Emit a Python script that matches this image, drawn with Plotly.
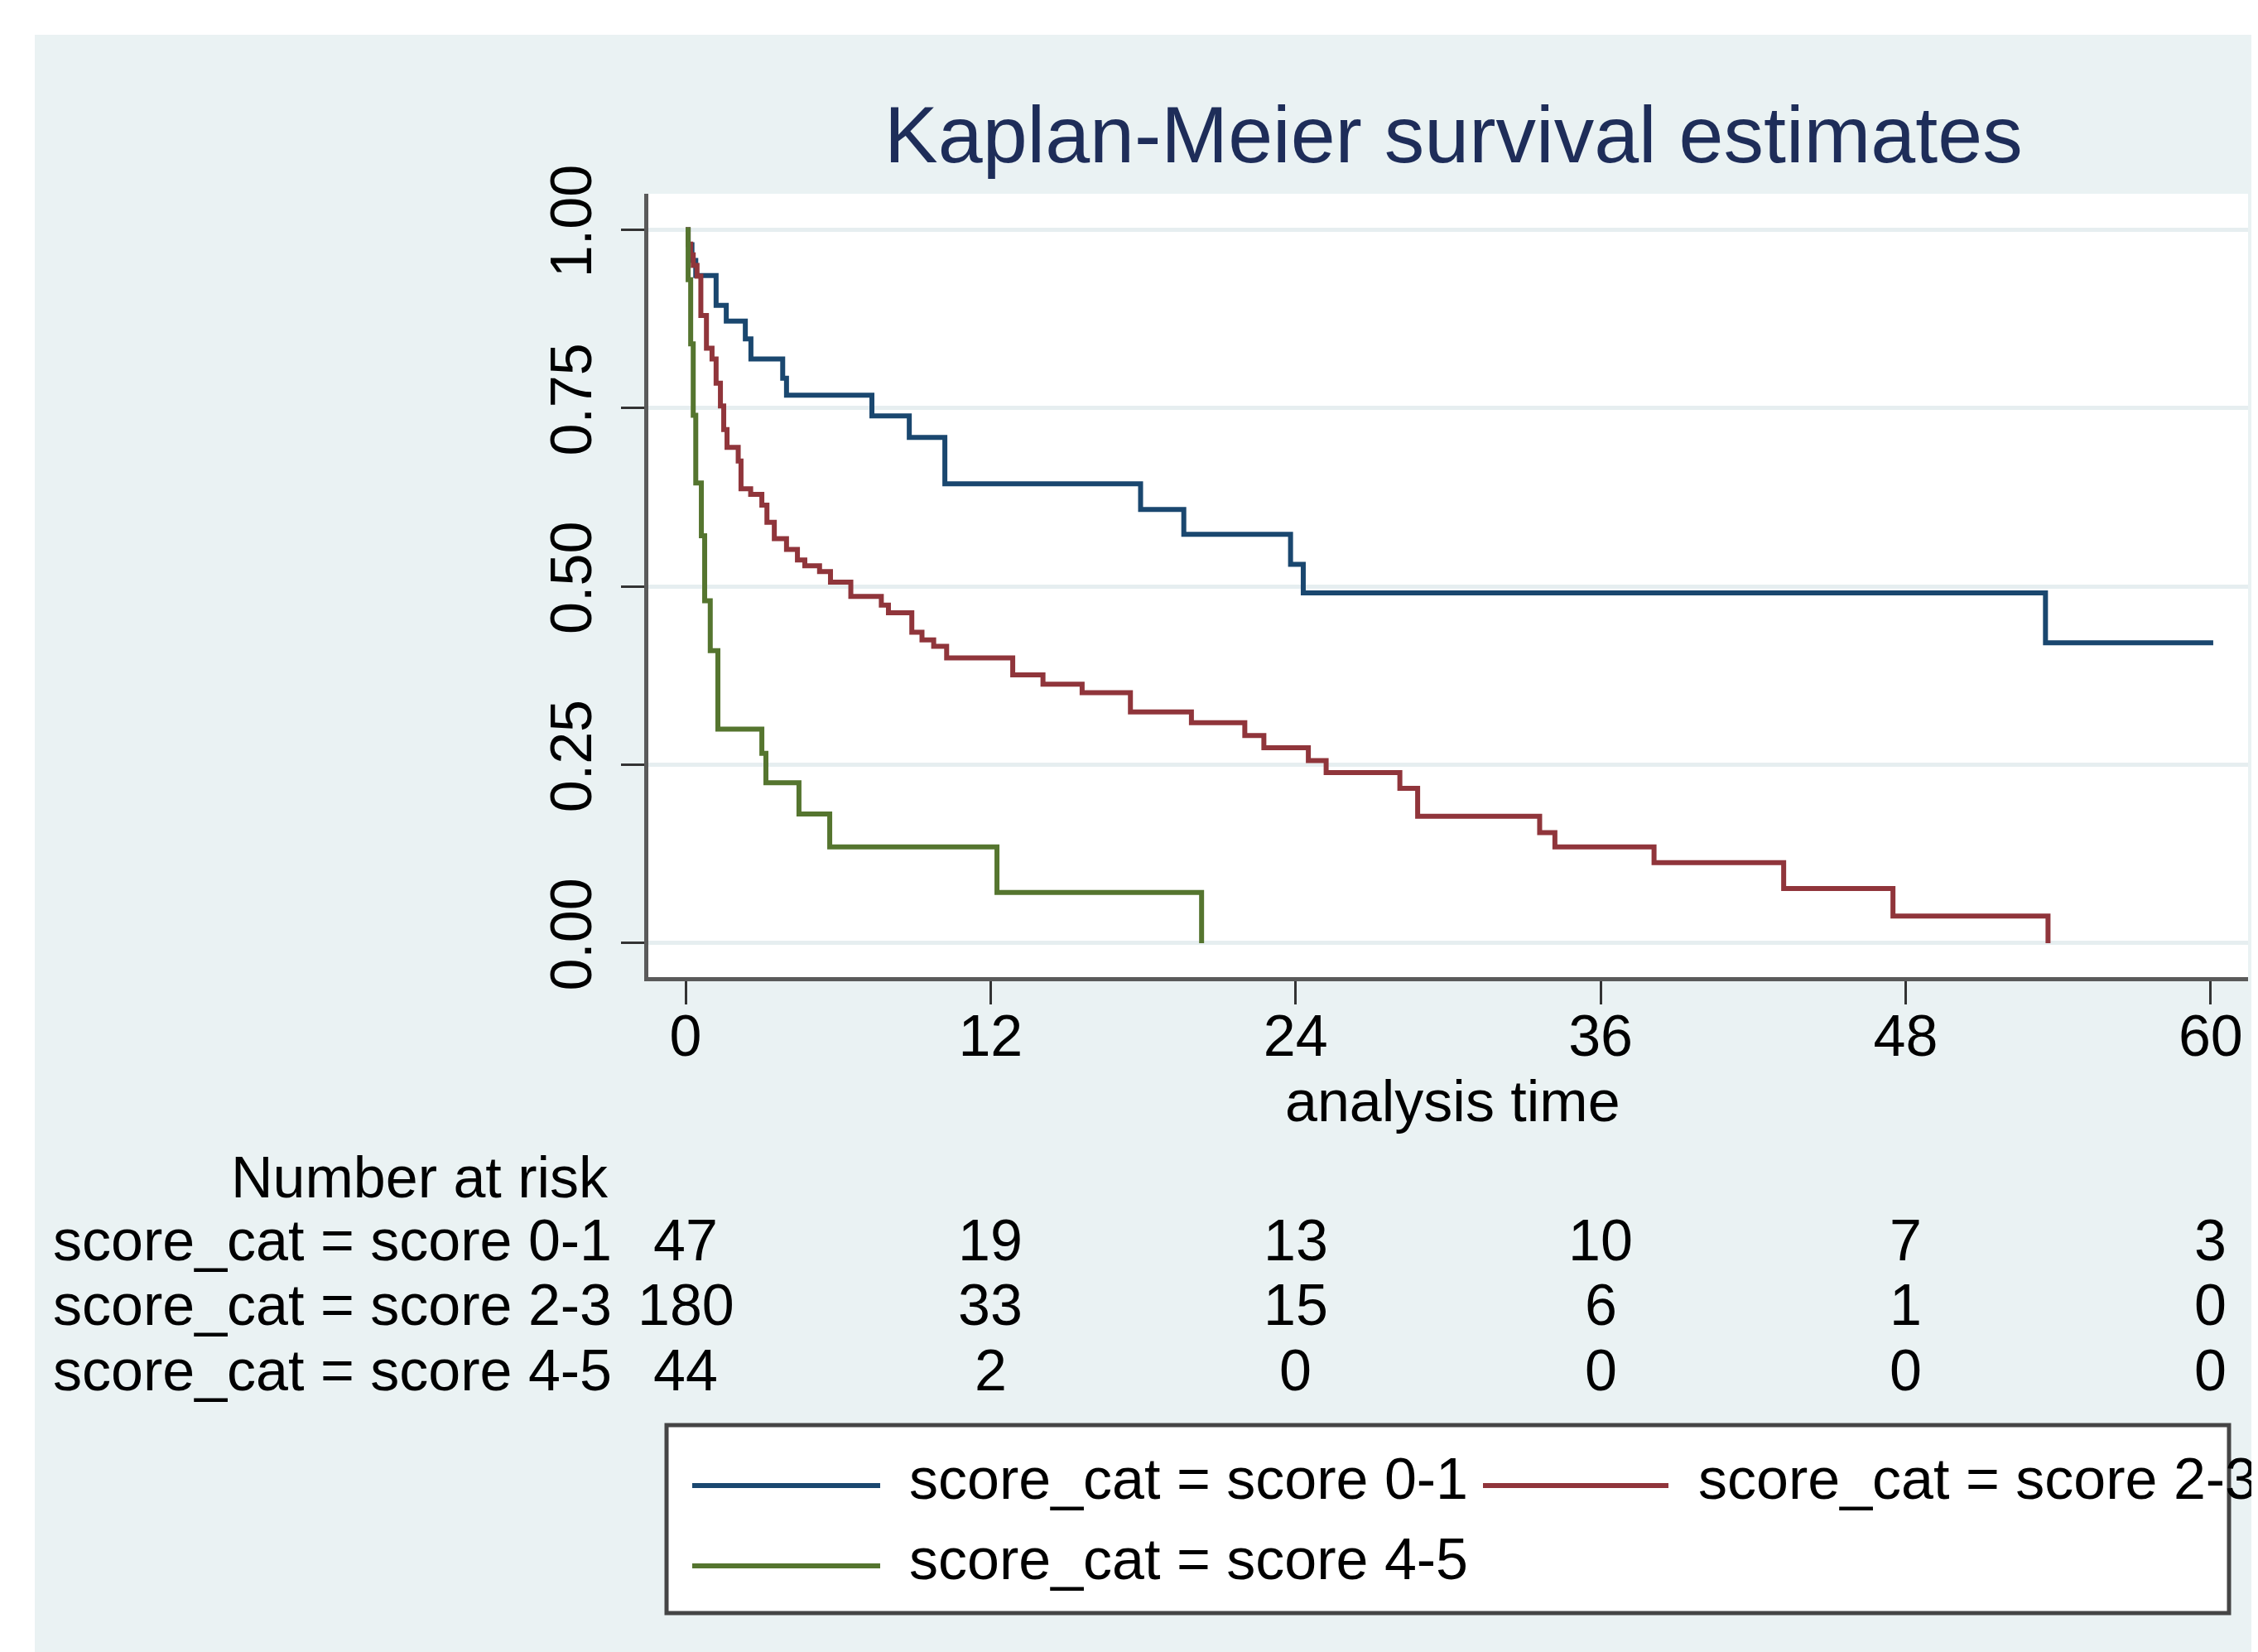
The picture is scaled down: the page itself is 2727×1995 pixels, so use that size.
import plotly.graph_objects as go

# ---------------- data ----------------
groups = ["score_cat = score 0-1", "score_cat = score 2-3", "score_cat = score 4-5"]

t_01 = [0, 0.1, 0.25, 0.4, 1.2, 1.6, 2.35, 2.57, 3.82, 3.97, 7.33, 8.8, 10.2, 17.9, 19.6, 23.8, 24.3, 53.5, 60.1]
s_01 = [1.0, 0.979, 0.957, 0.936, 0.894, 0.872, 0.847, 0.819, 0.792, 0.768, 0.739, 0.709, 0.644, 0.608, 0.573, 0.531, 0.491, 0.421, 0.421]

t_23 = [0, 0.1, 0.2, 0.3, 0.45, 0.6, 0.82, 1.04, 1.2, 1.37, 1.5, 1.63, 2.07, 2.18, 2.56, 3.0, 3.2, 3.49, 3.97,
        4.4, 4.69, 5.27, 5.7, 6.5, 7.7, 7.98, 8.9, 9.3, 9.76, 10.27, 12.87, 14.06, 15.6, 17.5, 19.9, 22.0,
        22.75, 24.5, 25.2, 28.1, 28.8, 33.6, 34.2, 38.1, 43.2, 47.5, 53.6]
s_23 = [1.0, 0.98, 0.965, 0.95, 0.935, 0.88, 0.834, 0.819, 0.785, 0.753, 0.72, 0.695, 0.676, 0.637, 0.629, 0.614, 0.59, 0.567, 0.552,
        0.537, 0.529, 0.521, 0.506, 0.486, 0.474, 0.463, 0.436, 0.425, 0.416, 0.40, 0.376, 0.363, 0.351, 0.324, 0.309, 0.291,
        0.274, 0.256, 0.239, 0.217, 0.178, 0.155, 0.135, 0.113, 0.0765, 0.038, 0.0]

t_45 = [0, 0.1, 0.2, 0.3, 0.4, 0.62, 0.75, 0.97, 1.27, 3.0, 3.16, 4.46, 5.67, 12.25, 20.3]
s_45 = [1.0, 0.93, 0.84, 0.74, 0.645, 0.571, 0.48, 0.41, 0.30, 0.266, 0.225, 0.181, 0.135, 0.071, 0.0]

risk_times = [0, 12, 24, 36, 48, 60]
risk_01 = [47, 19, 13, 10, 7, 3]
risk_23 = [180, 33, 15, 6, 1, 0]
risk_45 = [44, 2, 0, 0, 0, 0]

x_ticks = [0, 12, 24, 36, 48, 60]
y_ticks = [0, 0.25, 0.5, 0.75, 1.0]
y_ticklabels = ["0.00", "0.25", "0.50", "0.75", "1.00"]

colors = ["#1a476f", "#90353b", "#55752f"]

# ---------------- layout geometry (page pixels) ----------------
OFF = 8                      # default page body margin
PAGE_W, PAGE_H = 2727, 1995
W, H = PAGE_W - OFF, PAGE_H - OFF
L, R, T, B = 783 - OFF, 12, 234 - OFF, 815
PW, PH = W - L - R, H - T - B
FONT = "Arial, Liberation Sans, sans-serif"
FS = 70
BG = "#eaf2f3"


def px_x(px):
    return (px - OFF - L) / PW


def px_y(py):
    return (H - B - (py - OFF)) / PH


fig = go.Figure()
for t, s, name, c in zip([t_01, t_23, t_45], [s_01, s_23, s_45], groups, colors):
    fig.add_trace(go.Scatter(x=t, y=s, mode="lines", line=dict(color=c, width=6, shape="hv"),
                             name=name, showlegend=False))

shapes = [
    # white strips at top and left of the graph region
    dict(type="rect", xref="paper", yref="paper", x0=px_x(0), x1=px_x(PAGE_W + 10), y0=px_y(-10), y1=px_y(42),
         fillcolor="white", line=dict(width=0), layer="below"),
    dict(type="rect", xref="paper", yref="paper", x0=px_x(-10), x1=px_x(42), y0=px_y(-10), y1=px_y(PAGE_H + 10),
         fillcolor="white", line=dict(width=0), layer="below"),
    # legend box
    dict(type="rect", xref="paper", yref="paper", x0=px_x(805), x1=px_x(2692), y0=px_y(1721), y1=px_y(1948),
         fillcolor="white", line=dict(color="#454545", width=5)),
]

annotations = []
# legend entries
leg_pos = [(836, 1063, 1096, 1786), (1791, 2015, 2049, 1786), (836, 1063, 1096, 1883)]
for (lx0, lx1, tx, ly), name, c in zip(leg_pos, groups, colors):
    shapes.append(dict(type="line", xref="paper", yref="paper", x0=px_x(lx0), x1=px_x(lx1),
                       y0=px_y(ly + 8), y1=px_y(ly + 8), line=dict(color=c, width=6)))
    annotations.append(dict(xref="paper", yref="paper", x=px_x(tx), y=px_y(ly), text=name, showarrow=False,
                            xanchor="left", yanchor="middle", font=dict(family=FONT, size=FS, color="black")))

# title
annotations.append(dict(xref="paper", yref="paper", x=px_x(1755), y=px_y(162), text="Kaplan-Meier survival estimates",
                        showarrow=False, xanchor="center", yanchor="middle",
                        font=dict(family=FONT, size=97, color="#1e2d59")))
# x axis title
annotations.append(dict(xref="paper", yref="paper", x=px_x(1754), y=px_y(1330), text="analysis time",
                        showarrow=False, xanchor="center", yanchor="middle",
                        font=dict(family=FONT, size=FS, color="black")))
# number at risk table
annotations.append(dict(xref="paper", yref="paper", x=px_x(737), y=px_y(1422), text="Number at risk",
                        showarrow=False, xanchor="right", yanchor="middle",
                        font=dict(family=FONT, size=FS, color="black")))
row_y = [1498, 1576, 1655]
for name, vals, ry in zip(groups, [risk_01, risk_23, risk_45], row_y):
    annotations.append(dict(xref="paper", yref="paper", x=px_x(741), y=px_y(ry), text=name,
                            showarrow=False, xanchor="right", yanchor="middle",
                            font=dict(family=FONT, size=FS, color="black")))
    for tt, v in zip(risk_times, vals):
        annotations.append(dict(xref="x", yref="paper", x=tt, y=px_y(ry), text=str(v),
                                showarrow=False, xanchor="center", yanchor="middle",
                                font=dict(family=FONT, size=FS, color="black")))

fig.update_layout(
    width=W, height=H,
    margin=dict(l=L, r=R, t=T, b=B, pad=0),
    paper_bgcolor=BG, plot_bgcolor="white",
    shapes=shapes, annotations=annotations,
    showlegend=False,
    font=dict(family=FONT, size=FS, color="black"),
    xaxis=dict(range=[-1.466, 61.47], tickvals=x_ticks, showgrid=False, zeroline=False,
               showline=True, linecolor="#5a5a5a", linewidth=5,
               ticks="outside", ticklen=28, tickwidth=3, tickcolor="#333333", ticklabelstandoff=-22,
               tickfont=dict(family=FONT, size=FS, color="black")),
    yaxis=dict(range=[-0.0476, 1.0505], tickvals=y_ticks, ticktext=y_ticklabels, showgrid=True,
               gridcolor="#e6eef0", gridwidth=5, zeroline=False,
               showline=True, linecolor="#5a5a5a", linewidth=5,
               ticks="outside", ticklen=28, tickwidth=3, tickcolor="#333333", tickangle=-90,
               ticklabelstandoff=8,
               tickfont=dict(family=FONT, size=FS, color="black")),
)

fig.write_html("out.html")
